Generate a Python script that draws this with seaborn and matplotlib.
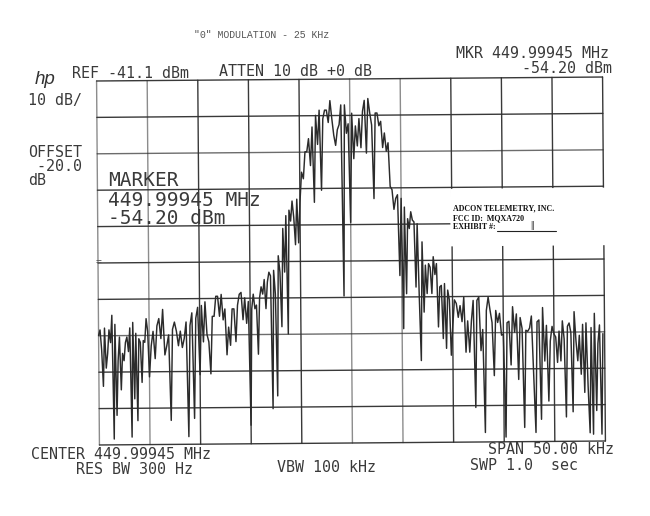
import numpy as np
import pandas as pd
import seaborn as sns
import matplotlib
matplotlib.use("Agg")
import matplotlib.pyplot as plt
from matplotlib.artist import Artist
from matplotlib.lines import Line2D
from matplotlib.patches import Rectangle
from matplotlib.transforms import Affine2D

sns.set_theme(style="white")
plt.rcParams['font.family'] = ['DejaVu Sans Mono']

# Trace level (dBm), one list per graticule division (5 kHz each)
div_0 = [-111, -109.5, -115, -125, -109, -120, -116, -109.5, -113, -105.5, -139.5, -108, -133, -118, -111.5, -126, -116, -118, -113, -111.5, -115.5, -109, -139, -107.5, -128.5, -110.5, -134.5, -112, -113, -124, -112.5, -113, -106.5, -110]
div_1 = [-122.5, -114, -110, -117.5, -108.5, -106.5, -112, -104, -116.5, -114, -111, -134.5, -109.5, -107.5, -110, -114, -110, -114.5, -112, -107.5, -139, -108.5, -105, -134, -106.5, -103.5]
div_2 = [-122, -103, -113, -102, -111, -113, -121.8, -106, -106, -100.5, -100.5, -106, -100, -107, -104, -116.6, -109, -114, -104, -104, -113, -103, -100, -99.5, -107, -101, -108, -102]
div_3 = [-136, -104, -100, -104, -103, -116.5, -101, -98, -100, -96, -104, -96.7, -94, -95, -131.5, -93.5, -100, -128, -89.5, -94, -109, -82, -94, -78.5, -111, -77, -80, -74.5, -79, -86.5, -74, -86]
div_4 = [-75, -66.6, -68.4, -61, -61, -57.4, -64.8, -54.2, -74.9, -51, -59, -49.6, -71.6, -52, -49.6, -49.6, -53, -47, -52, -56.5, -59.3, -55, -53.6, -48.2, -100.7, -48.2, -56, -53.4]
div_5 = [-80.5, -50.5, -63, -54, -59.5, -52, -60, -50, -47, -61.5, -46.5, -50.5, -53.8, -74, -50.5, -50.5, -54, -52.8, -60, -56, -61, -58.7, -70.7, -71.6, -77, -74, -73, -95.2]
div_6 = [-74, -109.8, -76.4, -100.2, -79.6, -82.3, -77.7, -80, -80.5, -98.4, -81, -101, -118.6, -86, -105.3, -92.4, -100.2, -92, -93, -100.2, -90.1, -95, -92, -109.4, -98.4, -98, -112.6, -97.5, -115.3, -99.3, -102, -117.2]
div_7 = [-109.6, -102, -103, -106.8, -103.6, -108, -101.3, -116.4, -107.8, -116.4, -107.8, -102.2, -131.6, -102.2, -101.3, -116, -110.2, -138.5, -105, -101.3, -105, -108.3, -122.9, -105, -108.3, -105.8, -111.8]
div_8 = [-111.5, -139.8, -108.4, -108, -120, -104, -111, -106, -124, -107, -110, -137.2, -110.5, -110.8, -109.9, -106.6, -122.2, -138.6, -108.2, -107.7, -135, -104.3, -119, -109.2, -130, -113.5, -109.5]
div_9 = [-111.6, -112.4, -119.4, -110.8, -119, -108, -113, -134.4, -109.5, -108.6, -111.2, -133, -105.5, -113.5, -119, -112, -122.7, -109, -127.7, -108.6, -126, -138.8, -109.9, -139.2, -106, -132.7, -114.3, -109.2, -139.2, -111.6]
divisions = [div_0, div_1, div_2, div_3, div_4, div_5, div_6, div_7, div_8, div_9]

span_start_khz = -25.0
khz_per_div = 5.0
ref_level = -41.1
db_per_div = 10.0

freq = np.concatenate([
    span_start_khz + khz_per_div * (n + np.arange(len(d)) / len(d))
    for n, d in enumerate(divisions)
])
level = np.concatenate(divisions)
trace = pd.DataFrame({"freq": freq, "level": level})

INK = "#2e2e2e"
W, H = 650, 516
fig = plt.figure(figsize=(W / 100, H / 100), dpi=100, facecolor="white")
L, R, T, B = 98, 604, 79, 443
ax = fig.add_axes([L / W, (H - B) / H, (R - L) / W, (B - T) / H])
sns.lineplot(data=trace, x="freq", y="level", ax=ax, estimator=None, sort=False,
             color="#2b2b2b", linewidth=1.05, zorder=3)
ax.set_xlim(span_start_khz, span_start_khz + 10 * khz_per_div)
ax.set_ylim(ref_level - 10 * db_per_div, ref_level)
ax.set_xticks([]); ax.set_yticks([])
ax.set_xlabel(""); ax.set_ylabel("")
for s in ax.spines.values():
    s.set_visible(False)
ax.patch.set_visible(False)

for n in range(11):
    ax.axvline(span_start_khz + n * khz_per_div, color=INK, lw=1.0, zorder=2,
               alpha=0.55 if n in (0, 1, 5, 6) else 0.95)
    ax.axhline(ref_level - n * db_per_div, color=INK, lw=1.0, zorder=2,
               alpha=0.7 if n in (2, 7) else 0.95)

# blank area of the pasted exhibit stamp
ax.add_patch(Rectangle((0.697, 0.538), 0.33, 0.158, transform=ax.transAxes,
                       facecolor="white", edgecolor="none", zorder=4, clip_on=False))

# scanned page is very slightly rotated
rot = Affine2D().rotate_deg_around((L + R) / 2, H - (T + B) / 2, 0.45)
for art in ax.get_children():
    if art in ax.spines.values() or art is ax.patch or art in (ax.xaxis, ax.yaxis):
        continue
    if hasattr(art, "set_transform"):
        art.set_transform(Artist.get_transform(art) + rot)
        art.set_clip_on(False)

def label(px, py, s, size=10.8, color="#3a3a3a", ha="left", **kw):
    fig.text(px / W, 1 - py / H, s, fontsize=size, color=color, ha=ha, va="center", **kw)

label(194, 35, '"0" MODULATION - 25 KHz', size=7.1, color="#555555", family="Liberation Mono")
label(72, 73, "REF -41.1 dBm")
label(219, 72, "ATTEN 10 dB +0 dB")
label(456, 54, "MKR 449.99945 MHz")
label(612, 68.5, "-54.20 dBm", ha="right")
label(28, 101, "10 dB/")
label(28, 152.5, "OFFSET")
label(28, 166.5, " -20.0")
label(28, 180.5, "dB")
label(108, 181, "MARKER", size=14)
label(108, 200, "449.99945 MHz", size=14)
label(108, 219, "-54.20 dBm", size=14)
label(31, 454.5, "CENTER 449.99945 MHz")
label(76, 469, "RES BW 300 Hz")
label(277, 468, "VBW 100 kHz")
label(488, 450, "SPAN 50.00 kHz")
label(470, 465, "SWP 1.0  sec")
label(35, 79, "hp", size=13.5, style="italic", family="Liberation Sans", color="#333333")
label(96, 262, "=", size=7, color="#555555")

stamp = dict(size=5.8, color="#111111", family="Liberation Serif", weight="bold")
label(453, 208, "ADCON TELEMETRY, INC.", **stamp)
label(453, 218, "FCC ID:  MQXA720", **stamp)
label(453, 227, "EXHIBIT #:", **stamp)
fig.add_artist(Line2D([497 / W, 556 / W], [1 - 231 / H, 1 - 231 / H], color="#222222", lw=0.8))
label(530, 225.5, "||", size=6.5, color="#444444", family="Liberation Sans")

fig.savefig("out.png", dpi=100, facecolor="white")
